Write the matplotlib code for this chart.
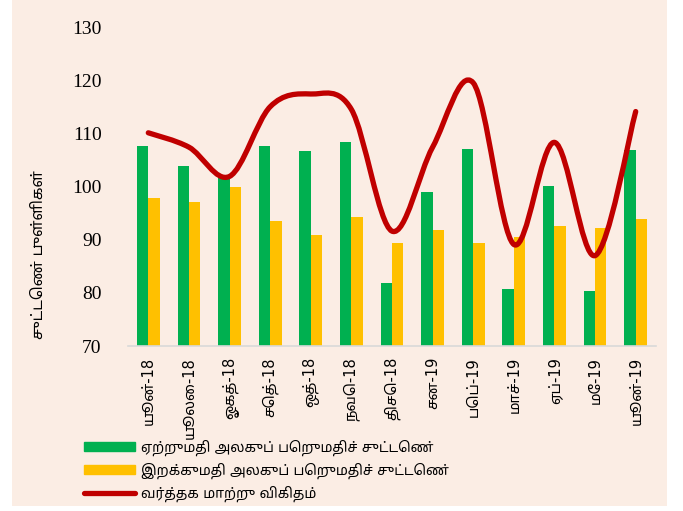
import matplotlib
matplotlib.use('Agg')
import matplotlib.pyplot as plt
import numpy as np
from matplotlib import font_manager
from matplotlib.ft2font import FT2Font
from matplotlib.path import Path
from matplotlib.patches import PathPatch, Rectangle
from matplotlib.lines import Line2D

months = ['யூன்-18', 'யூலை-18', 'ஓகத்-18', 'செத்-18', 'ஒத்-18', 'நவெ-18', 'திசெ-18',
          'சன-19', 'பெப்-19', 'மாச்-19', 'ஏப்-19', 'மே-19', 'யூன்-19']
export_idx = [107.6, 103.8, 101.7, 107.6, 106.6, 108.3, 81.9, 98.9, 107.1, 80.7, 100.1, 80.4, 106.9]
import_idx = [97.8, 97.0, 99.9, 93.5, 90.8, 94.3, 89.3, 91.8, 89.4, 90.5, 92.6, 92.2, 93.8]
tot = [110.1, 107.4, 101.9, 115.0, 117.4, 114.5, 91.6, 107.4, 119.5, 89.1, 108.3, 87.0, 114.1]

labels = ['ஏற்றுமதி அலகுப் பெறுமதிச் சுட்டெண்',
          'இறக்குமதி அலகுப் பெறுமதிச் சுட்டெண்',
          'வர்த்தக மாற்று விகிதம்']
ylabel = 'சுட்டெண் புள்ளிகள்'


def find_tamil_font():
    # look for an installed font with Tamil glyphs, prefer a "Tamil" sans one
    found = []
    for f in font_manager.fontManager.ttflist:
        try:
            cmap = FT2Font(f.fname).get_charmap()
        except Exception:
            continue
        if 0x0B95 in cmap and 0x0BCD in cmap:
            found.append(f.name)
    if not found:
        return None
    found.sort(key=lambda n: ('Tamil' not in n, 'Sans' not in n, 'UI' in n, n))
    return found[0]


tamil = find_tamil_font()
fam = ['DejaVu Sans', tamil] if tamil else ['DejaVu Sans']

bg = '#FBEDE4'
fig = plt.figure(figsize=(6.83, 5.11), dpi=100, facecolor='white')
fig.patches.append(Rectangle((12 / 683, 5 / 511), 655 / 683, 506 / 511,
                             transform=fig.transFigure, facecolor=bg,
                             edgecolor='none', zorder=-10))
ax = fig.add_axes([128 / 683, 1 - 346 / 511, 528 / 683, 319 / 511])
ax.set_facecolor('none')

x = np.arange(len(months))
w = 0.28
ax.bar(x - w / 2, export_idx, w, bottom=0, color='#00B050', zorder=2)
ax.bar(x + w / 2, import_idx, w, bottom=0, color='#FFC000', zorder=2)

# smooth line like Excel (Catmull-Rom through the points)
pts = np.column_stack([x, tot]).astype(float)
ext = np.vstack([pts[0], pts, pts[-1]])
verts = [tuple(pts[0])]
codes = [Path.MOVETO]
for i in range(len(pts) - 1):
    p0, p1, p2, p3 = ext[i], ext[i + 1], ext[i + 2], ext[i + 3]
    c1 = p1 + (p2 - p0) / 6
    c2 = p2 - (p3 - p1) / 6
    verts += [tuple(c1), tuple(c2), tuple(p2)]
    codes += [Path.CURVE4] * 3
ax.add_patch(PathPatch(Path(verts, codes), fill=False, edgecolor='#C00000',
                       lw=3.8, capstyle='round', joinstyle='round', zorder=3))

ax.set_xlim(-0.5, len(months) - 0.5)
ax.set_ylim(70, 130)
ax.set_yticks(range(70, 131, 10))
ax.tick_params(axis='y', length=0, pad=19, labelsize=14)
for t in ax.get_yticklabels():
    t.set_fontfamily('Liberation Serif')
ax.set_xticks(x)
ax.set_xticklabels(months, rotation=90, fontsize=10.5, family=fam)
ax.tick_params(axis='x', length=0, pad=8)
for s in ['top', 'right', 'left']:
    ax.spines[s].set_visible(False)
ax.spines['bottom'].set_color('#D9D9D9')
ax.spines['bottom'].set_linewidth(1.2)

fig.text(38 / 683, 1 - 255 / 511, ylabel, rotation=90, ha='center', va='center',
         fontsize=11, family=fam)

handles = [Rectangle((0, 0), 1, 1, color='#00B050'),
           Rectangle((0, 0), 1, 1, color='#FFC000'),
           Line2D([], [], color='#C00000', lw=3.8, solid_capstyle='round')]
fig.legend(handles, labels, loc='upper left', bbox_to_anchor=(78 / 683, 1 - 434 / 511),
           frameon=False, prop={'family': fam, 'size': 10}, handlelength=3.7,
           handleheight=0.6, handletextpad=0.45, labelspacing=0.5, borderaxespad=0)

fig.savefig('out.png', dpi=100, facecolor='white')
